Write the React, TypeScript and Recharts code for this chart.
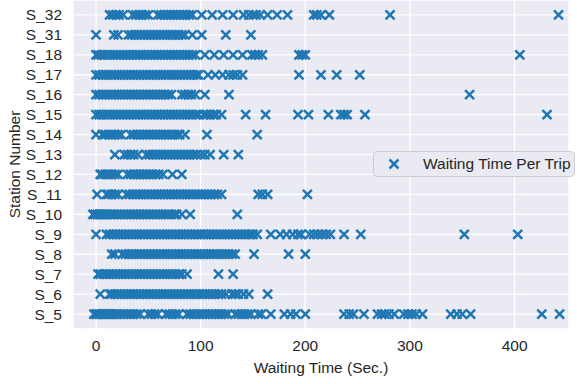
import { ScatterChart, Scatter, XAxis, YAxis, CartesianGrid, Legend } from 'recharts';

const FONT = '"Liberation Sans", Arial, sans-serif';
const BLUE = '#1f77b4';
const INK = '#262626';

// y-axis categories, bottom to top
const stations = [
  'S_5', 'S_6', 'S_7', 'S_8', 'S_9', 'S_10', 'S_11', 'S_12',
  'S_13', 'S_14', 'S_15', 'S_16', 'S_17', 'S_18', 'S_31', 'S_32',
];

const xTicks = [0, 100, 200, 300, 400];

// waiting time per trip (sec.)
const s5 = [-2, 0, 1, 3, 5, 7, 9, 11, 13, 15, 17, 19, 21, 24, 27, 30, 33, 36, 39, 42, 50, 53, 56, 59, 67, 70, 73, 76, 79, 87, 90, 93, 96, 99, 102, 105, 108, 111, 114, 117, 120, 123, 126, 133, 136, 139, 142, 145, 148, 155, 158, 167, 180, 186, 191, 200, 237, 242, 246, 256, 269, 273, 276, 280, 285, 294, 298, 302, 306, 312, 339, 345, 350, 358, 426, 443];
const s6 = [4, 13, 15, 18, 21, 24, 27, 30, 33, 36, 39, 42, 45, 48, 51, 54, 57, 60, 63, 66, 69, 72, 75, 78, 81, 84, 87, 90, 93, 96, 99, 102, 105, 108, 111, 114, 117, 120, 124, 130, 133, 136, 141, 146, 164];
const s7 = [2, 4, 7, 10, 13, 16, 19, 22, 25, 28, 31, 34, 37, 40, 43, 46, 49, 52, 55, 58, 61, 64, 67, 70, 73, 76, 79, 82, 87, 117, 131];
const s8 = [15, 18, 25, 28, 31, 34, 37, 40, 43, 46, 49, 52, 55, 58, 61, 64, 67, 70, 73, 76, 79, 82, 85, 88, 91, 94, 97, 100, 103, 106, 109, 112, 115, 118, 121, 124, 127, 130, 133, 151, 184, 200];
const s9 = [0, 10, 13, 16, 19, 22, 25, 28, 31, 34, 37, 40, 43, 46, 49, 52, 55, 58, 61, 64, 67, 70, 73, 76, 79, 82, 85, 88, 91, 94, 97, 100, 103, 106, 109, 112, 115, 118, 121, 124, 127, 130, 133, 136, 139, 142, 145, 148, 150, 154, 167, 176, 182, 188, 193, 196, 204, 208, 212, 216, 220, 224, 237, 253, 352, 403];
const s10 = [-3, -1, 1, 3, 5, 7, 9, 11, 13, 15, 18, 21, 24, 27, 30, 33, 36, 39, 42, 45, 48, 51, 54, 57, 60, 63, 66, 69, 72, 75, 77, 82, 90, 135];
const s11 = [1, 10, 12, 15, 18, 21, 29, 32, 35, 38, 41, 44, 47, 50, 53, 56, 59, 62, 65, 68, 71, 74, 77, 80, 83, 86, 89, 92, 95, 98, 101, 104, 107, 110, 113, 116, 120, 155, 159, 164, 202];
const s12 = [4, 6, 9, 12, 15, 18, 21, 30, 33, 36, 39, 42, 45, 48, 51, 54, 57, 60, 64, 73, 82];
const s13 = [18, 27, 30, 33, 36, 40, 48, 51, 54, 57, 60, 63, 66, 69, 72, 75, 78, 81, 84, 87, 90, 93, 96, 100, 104, 109, 122, 136];
const s14 = [0, 6, 9, 12, 15, 18, 21, 24, 33, 36, 39, 42, 45, 48, 51, 54, 57, 60, 63, 66, 69, 72, 75, 78, 80, 85, 106, 154];
const s15 = [0, 3, 5, 8, 11, 14, 17, 20, 23, 26, 29, 32, 35, 38, 41, 44, 47, 50, 53, 56, 59, 62, 65, 68, 71, 74, 77, 80, 83, 86, 89, 92, 95, 98, 103, 106, 109, 112, 115, 120, 143, 162, 193, 203, 222, 234, 237, 240, 257, 431];
const s16 = [0, 3, 6, 9, 12, 15, 18, 21, 24, 27, 30, 33, 36, 39, 42, 45, 48, 51, 54, 57, 60, 63, 66, 69, 72, 82, 85, 88, 91, 95, 104, 127, 357];
const s17 = [0, 3, 6, 9, 12, 15, 18, 21, 24, 27, 30, 33, 36, 39, 42, 45, 48, 51, 54, 57, 60, 63, 66, 69, 72, 75, 78, 81, 84, 87, 90, 93, 96, 98, 107, 114, 121, 127, 131, 135, 140, 194, 215, 230, 252];
const s18 = [0, 2, 5, 8, 11, 14, 17, 20, 23, 26, 29, 32, 35, 38, 41, 44, 47, 50, 53, 56, 59, 62, 65, 68, 71, 74, 77, 80, 83, 86, 89, 92, 95, 104, 113, 122, 131, 140, 149, 152, 155, 159, 194, 197, 200, 405];
const s31 = [0, 17, 21, 31, 34, 37, 40, 43, 46, 49, 52, 55, 58, 61, 64, 67, 70, 73, 76, 79, 82, 85, 92, 101, 124, 148];
const s32 = [13, 16, 19, 22, 26, 35, 38, 41, 44, 47, 50, 59, 62, 65, 68, 71, 74, 77, 80, 83, 86, 89, 92, 101, 111, 121, 131, 141, 146, 150, 153, 157, 164, 173, 183, 208, 211, 215, 223, 281, 442];

const waitsByStation = [s5, s6, s7, s8, s9, s10, s11, s12, s13, s14, s15, s16, s17, s18, s31, s32];

const points = waitsByStation.flatMap((waits, i) =>
  waits.map((w) => ({ wait: w, station: i })),
);

function xPath(cx: number, cy: number, r: number) {
  return `M${cx - r},${cy - r}L${cx + r},${cy + r}M${cx - r},${cy + r}L${cx + r},${cy - r}`;
}

function XMark(props: { cx?: number; cy?: number }) {
  const { cx, cy } = props;
  if (cx == null || cy == null) return null;
  return <path d={xPath(cx, cy, 4.5)} stroke={BLUE} strokeWidth={2.5} fill="none" />;
}

function LegendBox() {
  return (
    <div
      style={{
        boxSizing: 'border-box',
        width: 202,
        height: 26,
        border: '1px solid #cccccc',
        borderRadius: 4,
        background: '#EAEAF2',
        display: 'flex',
        alignItems: 'center',
        fontFamily: FONT,
        fontSize: 15.5,
        color: INK,
      }}
    >
      <svg width={49} height={24} style={{ flex: 'none' }}>
        <path d={xPath(20, 12, 4.5)} stroke={BLUE} strokeWidth={2.5} fill="none" />
      </svg>
      <span>Waiting Time Per Trip</span>
    </div>
  );
}

export default function App() {
  const tick = { fill: INK, fontSize: 15.5, fontFamily: FONT };
  return (
    <div style={{ position: 'absolute', left: 0, top: 0 }}>
      <ScatterChart width={577} height={384} margin={{ top: 0, right: 8, bottom: 0, left: 0 }}>
        <CartesianGrid fill="#EAEAF2" stroke="#ffffff" strokeWidth={1.3} />
        <XAxis
          type="number"
          dataKey="wait"
          domain={[-22, 452]}
          ticks={xTicks}
          height={55}
          axisLine={false}
          tickLine={false}
          tickMargin={5}
          tick={tick}
          label={{
            value: 'Waiting Time (Sec.)',
            position: 'insideBottom',
            offset: 11,
            style: { fill: INK, fontSize: 15.5, fontFamily: FONT },
          }}
        />
        <YAxis
          type="number"
          dataKey="station"
          domain={[-0.75, 15.75]}
          ticks={stations.map((_, i) => i)}
          interval={0}
          tickFormatter={(v: number) => stations[v] ?? ''}
          width={73}
          axisLine={false}
          tickLine={false}
          tickMargin={5}
          tick={tick}
          label={{
            value: 'Station Number',
            angle: -90,
            position: 'insideLeft',
            offset: 14,
            style: { fill: INK, fontSize: 15.5, fontFamily: FONT, textAnchor: 'middle' },
          }}
        />
        <Legend
          layout="vertical"
          align="center"
          verticalAlign="middle"
          content={() => <LegendBox />}
          wrapperStyle={{ left: 373, top: 151, width: 202 }}
        />
        <Scatter
          name="Waiting Time Per Trip"
          data={points}
          shape={(p: any) => <XMark cx={p.cx} cy={p.cy} />}
          isAnimationActive={false}
        />
      </ScatterChart>
    </div>
  );
}
